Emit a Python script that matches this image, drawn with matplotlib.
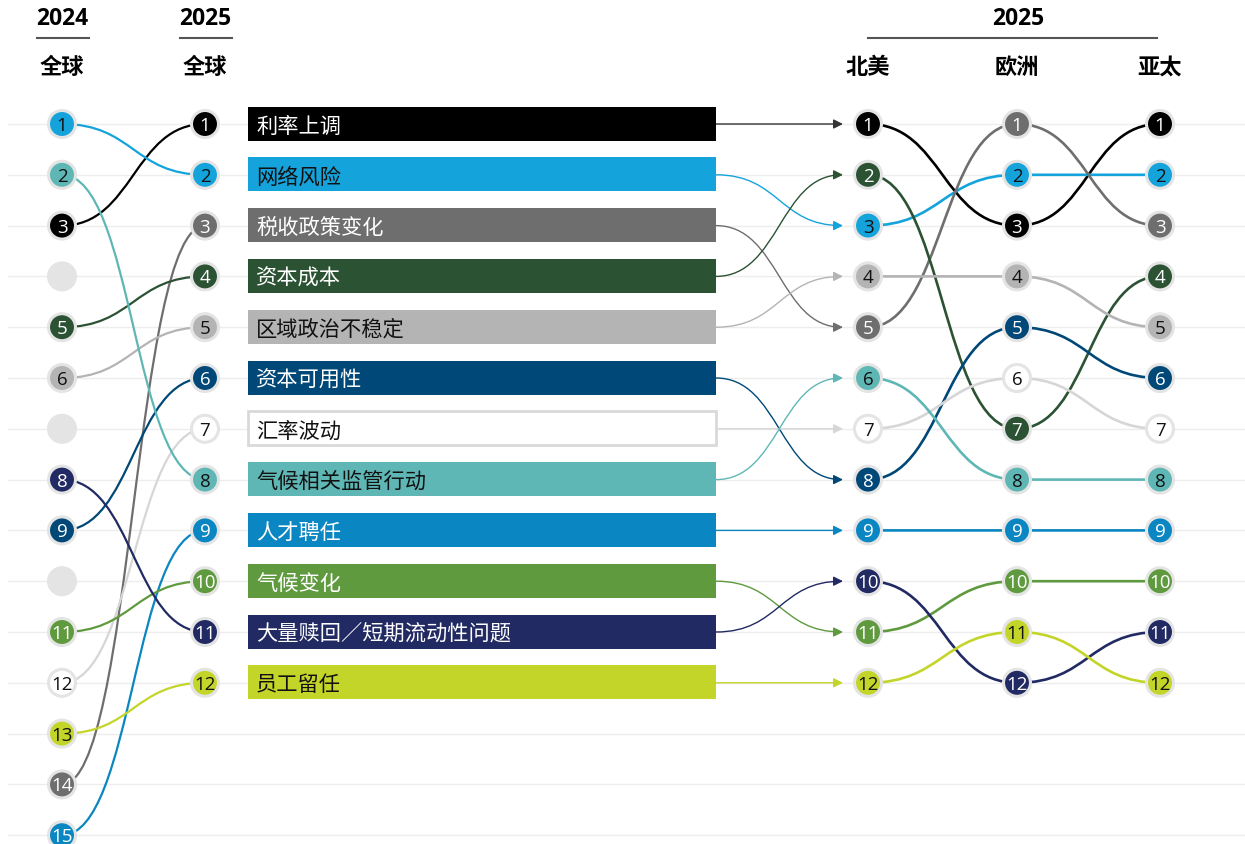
import numpy as np
import matplotlib.pyplot as plt
from matplotlib.path import Path
from matplotlib.patches import PathPatch, FancyArrowPatch, Rectangle, Circle

plt.rcParams['font.family'] = ['Open Sans', 'Noto Sans CJK SC', 'DejaVu Sans']

# 2025 全球排名顺序
risks = ["利率上调", "网络风险", "税收政策变化", "资本成本", "区域政治不稳定",
         "资本可用性", "汇率波动", "气候相关监管行动", "人才聘任", "气候变化",
         "大量赎回／短期流动性问题", "员工留任"]
colors = ["#000000", "#14a3db", "#6e6e6e", "#2c5234", "#b4b4b4", "#004878",
          "#ffffff", "#5fb7b5", "#0a86c2", "#5f9a3f", "#212a62", "#c4d52a"]
text_colors = ["white", "#111111", "white", "white", "#111111", "white",
               "#111111", "#111111", "white", "white", "white", "#111111"]
line_colors = ["#000000", "#14a3db", "#6e6e6e", "#2c5234", "#b4b4b4", "#004878",
               "#d6d6d6", "#5fb7b5", "#0a86c2", "#5f9a3f", "#212a62", "#c4d52a"]

rank_2025 = [1, 2, 3, 4, 5, 6, 7, 8, 9, 10, 11, 12]
rank_2024 = [3, 1, 14, 5, 6, 9, 12, 2, 15, 11, 8, 13]
rank_na = [1, 3, 5, 2, 4, 8, 7, 6, 9, 11, 10, 12]
rank_eu = [3, 2, 1, 7, 4, 5, 6, 8, 9, 10, 12, 11]
rank_ap = [1, 2, 3, 4, 5, 6, 7, 8, 9, 10, 11, 12]
n_2024 = 15

# 版式 (像素)
Y0, DY = 125, 50.8
X24, X25, XNA, XEU, XAP = 62, 205, 868, 1017, 1160
BAR_X0, BAR_X1, ARROW_X = 248, 716, 843
R = 13.5


def ry(r):
    return Y0 + (r - 1) * DY


def sig_path(x0, y0, x1, y1):
    k = 0.5 * (x1 - x0)
    return Path([(x0, y0), (x0 + k, y0), (x1 - k, y1), (x1, y1)],
                [Path.MOVETO, Path.CURVE4, Path.CURVE4, Path.CURVE4])


def bubble(ax, x, r, fc, tc, show=True):
    ax.add_patch(Circle((x, ry(r)), R, fc=fc, ec="#e4e4e4", lw=2.2, zorder=4))
    if show:
        ax.text(x, ry(r) + 1, str(r), ha="center", va="center", fontsize=13.5,
                color=tc, zorder=5)


def main():
    fig = plt.figure(figsize=(12.45, 8.45), dpi=100)
    ax = fig.add_axes([0, 0, 1, 1])
    ax.set_xlim(0, 1245)
    ax.set_ylim(845, 0)
    ax.axis("off")

    # 网格
    for r in range(1, n_2024 + 1):
        ax.plot([8, 1245], [ry(r), ry(r)], color="#ededed", lw=1, zorder=0)

    # 表头
    for x, yr, reg in [(X24, "2024", "全球"), (X25, "2025", "全球")]:
        ax.text(x, 19, yr, ha="center", va="center", fontsize=16.5, fontweight="bold")
        ax.plot([x - 25, x + 27], [39, 39], color="#555555", lw=1.5)
        ax.text(x, 68, reg, ha="center", va="center", fontsize=16, fontweight="bold")
    ax.text(1018, 19, "2025", ha="center", va="center", fontsize=16.5, fontweight="bold")
    ax.plot([868, 1157], [39, 39], color="#555555", lw=1.5)
    for x, reg in [(XNA, "北美"), (XEU, "欧洲"), (XAP, "亚太")]:
        ax.text(x, 68, reg, ha="center", va="center", fontsize=16, fontweight="bold")

    # 2024 空位
    for r in range(1, n_2024 + 1):
        if r not in rank_2024:
            bubble(ax, X24, r, "#e4e4e4", "none", show=False)

    for i, name in enumerate(risks):
        c, lc, tc = colors[i], line_colors[i], text_colors[i]
        # 2024 -> 2025
        ax.add_patch(PathPatch(sig_path(X24, ry(rank_2024[i]), X25, ry(rank_2025[i])),
                               fc="none", ec=lc, lw=1.6, zorder=2))
        # 条形
        ec = "#d9d9d9" if c == "#ffffff" else c
        ax.add_patch(Rectangle((BAR_X0, ry(rank_2025[i]) - 17.5), BAR_X1 - BAR_X0, 34,
                               fc=c, ec=ec, lw=2 if c == "#ffffff" else 0, zorder=3))
        ax.text(BAR_X0 + 8, ry(rank_2025[i]) + 2, name, ha="left", va="center",
                fontsize=15.3, color=tc, zorder=4)
        # 条形 -> 北美
        arr_c = "#333333" if c == "#000000" else lc
        ax.add_patch(FancyArrowPatch(path=sig_path(BAR_X1, ry(rank_2025[i]), ARROW_X, ry(rank_na[i])),
                                     arrowstyle="-|>", mutation_scale=14, lw=1.0,
                                     color=arr_c, zorder=2))
        # 地区之间
        ax.add_patch(PathPatch(sig_path(XNA, ry(rank_na[i]), XEU, ry(rank_eu[i])),
                               fc="none", ec=lc, lw=1.9, zorder=2))
        ax.add_patch(PathPatch(sig_path(XEU, ry(rank_eu[i]), XAP, ry(rank_ap[i])),
                               fc="none", ec=lc, lw=1.9, zorder=2))
        # 圆点
        bubble(ax, X24, rank_2024[i], c, tc)
        bubble(ax, X25, rank_2025[i], c, tc)
        bubble(ax, XNA, rank_na[i], c, tc)
        bubble(ax, XEU, rank_eu[i], c, tc)
        bubble(ax, XAP, rank_ap[i], c, tc)

    fig.savefig("out.png", dpi=100)


if __name__ == '__main__':
    main()
